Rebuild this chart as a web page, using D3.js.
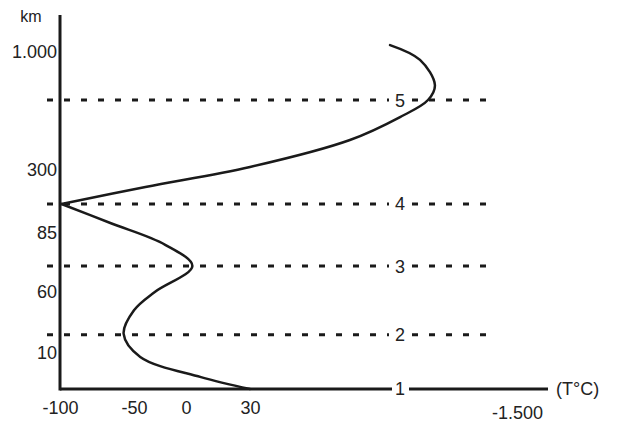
<!DOCTYPE html>
<html>
<head>
<meta charset="utf-8">
<script src="https://cdn.jsdelivr.net/npm/d3@7"></script>
<style>
    body { margin: 0; background: #fff; }
    text { font-family: "Liberation Sans", Arial, sans-serif; fill: #222; }
</style>
</head>
<body>
<script>
// temperature ticks (°C) and their printed labels
var tempTicks = [-100, -50, 0, 30, 1500];
var tempTickLabels = ['-100', '-50', '0', '30', '-1.500'];

// altitude ticks (km) and their printed labels
var altTicks = [10, 60, 85, 300, 1000];
var altTickLabels = ['10', '60', '85', '300', '1.000'];

// layer boundaries (km) with their numbers
var layerAlt = [0, 25, 71, 184, 715];
var layerNames = ['1', '2', '3', '4', '5'];

// temperature profile: altitude km / temperature °C
var profileAlt = [0, 3.3, 8.9, 25.6, 45, 60, 71, 80, 119, 184, 242, 318, 478, 614, 715, 804, 953, 1041];
var profileTemp = [30, 7, -44, -57, -50, -30, 3, -20, -66, -99, -39, 30, 580, 856, 1010, 1048, 966, 801];

var width = 622, height = 434;

var svg = d3.select('body').append('svg')
    .attr('width', width).attr('height', height);

// the drawing uses uneven spacing, so both scales are piecewise
var x = d3.scaleLinear()
    .domain([-100, -50, 0, 30, 1500])
    .range([60, 134, 186, 250, 517]);
var y = d3.scaleLinear()
    .domain([0, 10, 60, 85, 300, 1000, 1220])
    .range([389, 353, 292, 233, 170, 52, 15]);

var ink = '#1a1a1a';

// dashed layer lines with the number sitting in a gap
var layers = layerAlt.map(function(a, i) { return {alt: a, name: layerNames[i]}; });

svg.selectAll('.layer-left')
    .data(layers.slice(1)).enter().append('line')
    .attr('x1', 47).attr('x2', 389)
    .attr('y1', function(d) { return y(d.alt); })
    .attr('y2', function(d) { return y(d.alt); })
    .attr('stroke', ink).attr('stroke-width', 3)
    .attr('stroke-dasharray', '6,11');

svg.selectAll('.layer-right')
    .data(layers.slice(1)).enter().append('line')
    .attr('x1', 412).attr('x2', 493)
    .attr('y1', function(d) { return y(d.alt); })
    .attr('y2', function(d) { return y(d.alt); })
    .attr('stroke', ink).attr('stroke-width', 3)
    .attr('stroke-dasharray', '6,11');

svg.selectAll('.layer-name')
    .data(layers).enter().append('text')
    .attr('x', 400)
    .attr('y', function(d) { return y(d.alt); })
    .attr('dy', '0.36em')
    .attr('text-anchor', 'middle')
    .style('font-size', '18px')
    .text(function(d) { return d.name; });

// axes lines
svg.append('line')
    .attr('x1', x(-100)).attr('x2', x(-100))
    .attr('y1', y(0) + 1.5).attr('y2', y(1220))
    .attr('stroke', ink).attr('stroke-width', 3);
svg.append('line')
    .attr('x1', x(-100)).attr('x2', 392)
    .attr('y1', y(0)).attr('y2', y(0))
    .attr('stroke', ink).attr('stroke-width', 3);
svg.append('line')
    .attr('x1', 409).attr('x2', 548)
    .attr('y1', y(0)).attr('y2', y(0))
    .attr('stroke', ink).attr('stroke-width', 3);

// tick labels through d3 axes, no tick marks
var xAxis = d3.axisBottom(x)
    .tickValues(tempTicks)
    .tickSize(0)
    .tickPadding(14)
    .tickFormat(function(d, i) { return tempTickLabels[i]; });
var gx = svg.append('g').attr('transform', 'translate(0,' + y(0) + ')').call(xAxis);
gx.select('.domain').remove();
gx.selectAll('text')
    .style('font-size', '18px')
    .style('font-family', '"Liberation Sans", Arial, sans-serif')
    .attr('fill', '#222')
    .attr('dy', function(d) { return d === 1500 ? '0.9em' : '0.62em'; });

var yAxis = d3.axisLeft(y)
    .tickValues(altTicks)
    .tickSize(0)
    .tickPadding(3)
    .tickFormat(function(d, i) { return altTickLabels[i]; });
var gy = svg.append('g').attr('transform', 'translate(' + x(-100) + ',0)').call(yAxis);
gy.select('.domain').remove();
gy.selectAll('text')
    .style('font-size', '18px')
    .style('font-family', '"Liberation Sans", Arial, sans-serif')
    .attr('fill', '#222');

svg.append('text')
    .attr('x', 31).attr('y', 22)
    .attr('text-anchor', 'middle')
    .style('font-size', '16px')
    .text('km');

svg.append('text')
    .attr('x', 556).attr('y', y(0))
    .attr('dy', '0.36em')
    .style('font-size', '18px')
    .text('(T°C)');

// the profile curve, drawn in two pieces so the cusp at the mesopause stays sharp
var profile = profileAlt.map(function(a, i) { return {alt: a, temp: profileTemp[i]}; });
var cusp = d3.minIndex(profileTemp);
var line = d3.line()
    .x(function(d) { return x(d.temp); })
    .y(function(d) { return y(d.alt); })
    .curve(d3.curveCatmullRom.alpha(0.5));

svg.selectAll('.profile')
    .data([profile.slice(0, cusp + 1), profile.slice(cusp)])
    .enter().append('path')
    .attr('d', line)
    .attr('fill', 'none')
    .attr('stroke', ink)
    .attr('stroke-width', 2.5)
    .attr('stroke-linejoin', 'round')
    .attr('stroke-linecap', 'round');
</script>
</body>
</html>
